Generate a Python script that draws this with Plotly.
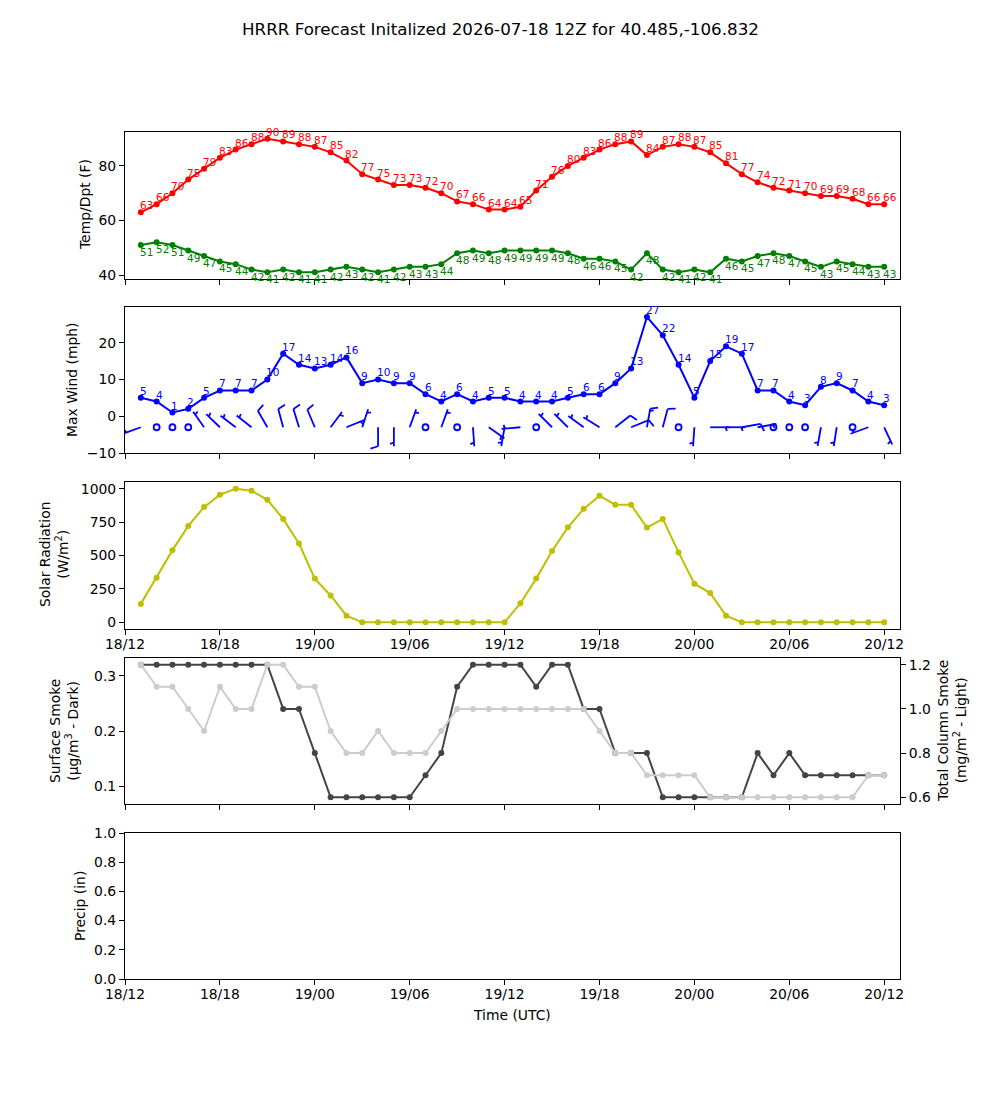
import math
import plotly.graph_objects as go

# ---------------- data ----------------
title = "HRRR Forecast Initalized 2026-07-18 12Z for 40.485,-106.832"
fhour = list(range(1, 49))  # hours after 18/12 12Z
tick_hours = [0, 6, 12, 18, 24, 30, 36, 42, 48]
tick_labels = ["18/12", "18/18", "19/00", "19/06", "19/12", "19/18", "20/00", "20/06", "20/12"]

temp = [63, 66, 70, 75, 79, 83, 86, 88, 90, 89, 88, 87, 85, 82, 77, 75, 73, 73, 72, 70, 67, 66, 64, 64,
        65, 71, 76, 80, 83, 86, 88, 89, 84, 87, 88, 87, 85, 81, 77, 74, 72, 71, 70, 69, 69, 68, 66, 66]
dewp = [51, 52, 51, 49, 47, 45, 44, 42, 41, 42, 41, 41, 42, 43, 42, 41, 42, 43, 43, 44, 48, 49, 48, 49,
        49, 49, 49, 48, 46, 46, 45, 42, 48, 42, 41, 42, 41, 46, 45, 47, 48, 47, 45, 43, 45, 44, 43, 43]
wind = [5, 4, 1, 2, 5, 7, 7, 7, 10, 17, 14, 13, 14, 16, 9, 10, 9, 9, 6, 4, 6, 4, 5, 5,
        4, 4, 4, 5, 6, 6, 9, 13, 27, 22, 14, 5, 15, 19, 17, 7, 7, 4, 3, 8, 9, 7, 4, 3]
# wind barbs: direction wind is from (deg) and barb speed (kt)
barb_dir = [250, 0, 0, 0, 325, 314, 307, 308, 330, 345, 343, 337, 37, 68, 18, 180, 180, 20, 0, 20, 0, 176, 125, 190,
            265, 0, 315, 315, 306, 302, 52, 68, 10, 15, 0, 184, 90, 90, 80, 80, 0, 0, 0, 190, 189, 0, 250, 155]
barb_spd = [5, 0, 0, 0, 5, 5, 5, 5, 10, 10, 10, 10, 5, 5, 5, 10, 5, 5, 0, 5, 0, 5, 5, 5,
            5, 0, 5, 5, 5, 5, 10, 10, 15, 10, 0, 5, 5, 5, 10, 5, 0, 0, 0, 5, 5, 0, 5, 5]
barb_level = -3

solar = [138, 334, 540, 721, 862, 955, 1000, 985, 917, 774, 590, 327, 201, 50, 0, 0, 0, 0, 0, 0, 0, 0, 0, 0,
         143, 327, 533, 711, 849, 947, 879, 879, 709, 774, 523, 289, 219, 50, 0, 0, 0, 0, 0, 0, 0, 0, 0, 0]
smoke_sfc = [0.32, 0.32, 0.32, 0.32, 0.32, 0.32, 0.32, 0.32, 0.32, 0.24, 0.24, 0.16, 0.08, 0.08, 0.08, 0.08,
             0.08, 0.08, 0.12, 0.16, 0.28, 0.32, 0.32, 0.32, 0.32, 0.28, 0.32, 0.32, 0.24, 0.24, 0.16, 0.16,
             0.16, 0.08, 0.08, 0.08, 0.08, 0.08, 0.08, 0.16, 0.12, 0.16, 0.12, 0.12, 0.12, 0.12, 0.12, 0.12]
smoke_col = [1.2, 1.1, 1.1, 1.0, 0.9, 1.1, 1.0, 1.0, 1.2, 1.2, 1.1, 1.1, 0.9, 0.8, 0.8, 0.9, 0.8, 0.8,
             0.8, 0.9, 1.0, 1.0, 1.0, 1.0, 1.0, 1.0, 1.0, 1.0, 1.0, 0.9, 0.8, 0.8, 0.7, 0.7, 0.7, 0.7,
             0.6, 0.6, 0.6, 0.6, 0.6, 0.6, 0.6, 0.6, 0.6, 0.6, 0.7, 0.7]
precip_hours = []
precip = []

# ---------------- layout geometry ----------------
W, H = 1000, 1100
X0, X1 = 125, 900
panels = [(132, 279), (307, 453), (482, 629), (658, 804), (833, 979)]
xr = [0, 49]
yr = {1: [38.55, 92.45], 2: [-10, 29.7], 3: [-50, 1050], 4: [0.068, 0.332], 5: [0, 1], 6: [0.57, 1.23]}

FONT = "DejaVu Sans"
TICK = 13.9
LAB = 10.5

RED, GREEN, BLUE, YEL = "#ff0000", "#008000", "#0000ff", "#bfbf00"
DARK, LIGHT = "#444444", "#cccccc"

fig = go.Figure()

def line_trace(x, y, color, xa, ya, width=2):
    fig.add_trace(go.Scatter(x=x, y=y, mode="lines+markers", xaxis=xa, yaxis=ya,
                             line=dict(color=color, width=width),
                             marker=dict(color=color, size=6), hoverinfo="skip"))

line_trace(fhour, temp, RED, "x", "y")
line_trace(fhour, dewp, GREEN, "x", "y")
line_trace(fhour, wind, BLUE, "x2", "y2")
line_trace(fhour, solar, YEL, "x3", "y3")
line_trace(fhour, smoke_col, LIGHT, "x4", "y6")
line_trace(fhour, smoke_sfc, DARK, "x4", "y4")
line_trace(precip_hours, precip, "#008000", "x5", "y5")

# ---------------- wind barbs ----------------
p_top, p_bot = panels[1]
px_x = (X1 - X0) / (xr[1] - xr[0])
px_y = (p_bot - p_top) / (yr[2][1] - yr[2][0])
L = 19.0
bx, by = [], []
cx, cy = [], []
for xh, dd, sp in zip(fhour, barb_dir, barb_spd):
    if sp < 2.5:
        cx.append(xh)
        cy.append(barb_level)
        continue
    th = math.radians(dd)
    d = (math.sin(th), math.cos(th))
    p = (math.cos(th), -math.sin(th))

    def pt(a, b):
        return (xh + (a * d[0] + b * p[0]) / px_x, barb_level + (a * d[1] + b * p[1]) / px_y)

    segs = [[pt(0, 0), pt(L, 0)]]
    spacing, hgt, wid = 0.125 * L, 0.4 * L, 0.25 * L
    nfull = int(sp // 10)
    half = (sp % 10) >= 5
    off = L
    for i in range(nfull):
        segs.append([pt(off, 0), pt(off + wid / 2, hgt)])
        off -= spacing
    if half:
        if nfull == 0:
            off -= 1.5 * spacing
        segs.append([pt(off, 0), pt(off + wid / 4, hgt / 2)])
    for s in segs:
        for (a, b) in s:
            bx.append(a)
            by.append(b)
        bx.append(None)
        by.append(None)

fig.add_trace(go.Scatter(x=bx, y=by, mode="lines", xaxis="x2", yaxis="y2",
                         line=dict(color=BLUE, width=1.8), hoverinfo="skip"))
fig.add_trace(go.Scatter(x=cx, y=cy, mode="markers", xaxis="x2", yaxis="y2",
                         marker=dict(symbol="circle-open", size=6, color=BLUE, line=dict(width=1.8)),
                         hoverinfo="skip"))

# ---------------- value labels ----------------
ann = []
for xh, v in zip(fhour, temp):
    ann.append(dict(x=xh, y=v, xref="x", yref="y", text=str(v), showarrow=False,
                    xanchor="left", yanchor="bottom", xshift=-3, yshift=-1,
                    font=dict(family=FONT, size=LAB, color=RED)))
for xh, v in zip(fhour, dewp):
    ann.append(dict(x=xh, y=v, xref="x", yref="y", text=str(v), showarrow=False,
                    xanchor="left", yanchor="top", xshift=-3, yshift=1,
                    font=dict(family=FONT, size=LAB, color=GREEN)))
for xh, v in zip(fhour, wind):
    ann.append(dict(x=xh, y=v, xref="x2", yref="y2", text=str(v), showarrow=False,
                    xanchor="left", yanchor="bottom", xshift=-3, yshift=-1,
                    font=dict(family=FONT, size=LAB, color=BLUE)))

def paper_text(text, px, py, angle=0, size=TICK):
    ann.append(dict(x=px / W, y=1 - py / H, xref="paper", yref="paper", text=text, showarrow=False,
                    xanchor="center", yanchor="middle", textangle=angle,
                    font=dict(family=FONT, size=size, color="black")))

paper_text(title, 500, 29, size=16.7)
paper_text("Temp/Dpt (F)", 85, 205, -90)
paper_text("Max Wind (mph)", 72, 380, -90)
paper_text("Solar Radiation<br>(W/m<sup>2</sup>)", 54, 555, -90)
paper_text("Surface Smoke<br>(μg/m<sup>3</sup> - Dark)", 64, 731, -90)
paper_text("Total Column Smoke<br>(mg/m<sup>2</sup> - Light)", 952, 731, -90)
paper_text("Precip (in)", 80, 906, -90)
paper_text("Time (UTC)", 512, 1015)

fig.update_layout(annotations=ann)

# ---------------- axes ----------------
common = dict(showline=True, linecolor="black", linewidth=1.1, mirror=True, showgrid=False,
              zeroline=False, ticks="outside", ticklen=5, tickwidth=1.1, tickcolor="black",
              automargin=False, tickfont=dict(family=FONT, size=TICK, color="black"))
lay = {}
for i, (top, bot) in enumerate(panels, start=1):
    sfx = "" if i == 1 else str(i)
    dom_y = [1 - bot / H, 1 - top / H]
    lay["xaxis" + sfx] = dict(common, domain=[X0 / W, X1 / W], range=xr, anchor="y" + sfx,
                              tickmode="array", tickvals=tick_hours, ticktext=tick_labels,
                              showticklabels=(i in (3, 5)), ticklabelstandoff=-3)
    lay["yaxis" + sfx] = dict(common, domain=dom_y, range=yr[i], anchor="x" + sfx)

lay["yaxis"].update(tickvals=[40, 60, 80])
lay["yaxis2"].update(tickvals=[-10, 0, 10, 20])
lay["yaxis3"].update(tickvals=[0, 250, 500, 750, 1000])
lay["yaxis4"].update(tickvals=[0.1, 0.2, 0.3], tickformat=".1f")
lay["yaxis5"].update(tickvals=[0, 0.2, 0.4, 0.6, 0.8, 1.0], tickformat=".1f")
lay["yaxis6"] = dict(common, overlaying="y4", side="right", anchor="x4", range=yr[6], mirror=False,
                     tickvals=[0.6, 0.8, 1.0, 1.2], tickformat=".1f")

fig.update_layout(**lay)
fig.update_layout(width=W, height=H, margin=dict(l=0, r=0, t=0, b=0, autoexpand=False), showlegend=False,
                  plot_bgcolor="white", paper_bgcolor="white",
                  font=dict(family=FONT, size=TICK, color="black"))

fig.write_html("out.html")
